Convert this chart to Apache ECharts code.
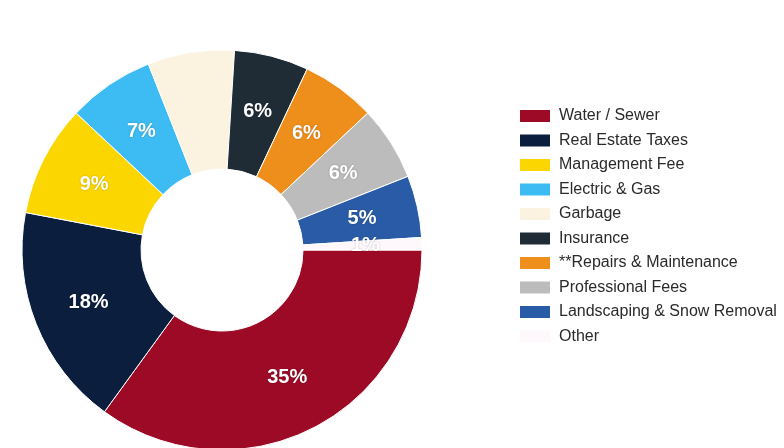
<!DOCTYPE html>
<html>
<head>
<meta charset="utf-8">
<script src="https://cdn.jsdelivr.net/npm/echarts@6/dist/echarts.min.js"></script>
<style>
  html, body { margin: 0; padding: 0; background: #ffffff; }
  #chart { width: 784px; height: 448px; }
</style>
</head>
<body>
<div id="chart"></div>
<script>
// Operating expense breakdown (percent of total)
const categories = [
  'Water / Sewer',
  'Real Estate Taxes',
  'Management Fee',
  'Electric & Gas',
  'Garbage',
  'Insurance',
  '**Repairs & Maintenance',
  'Professional Fees',
  'Landscaping & Snow Removal',
  'Other'
];
const shares = [35, 18, 9, 7, 7, 6, 6, 6, 5, 1];
const sliceColors = [
  '#9c0a26', '#0b1e3d', '#fcd600', '#3cbcf3', '#fbf2e0',
  '#1f2b35', '#ee8e1b', '#bcbcbc', '#2a5ba6', '#fef8fc'
];

const chart = echarts.init(document.getElementById('chart'), null, { renderer: 'canvas' });

const baseLabel = {
  show: true,
  position: 'inside',
  formatter: p => p.value + '%',
  fontFamily: 'Liberation Sans, Arial, sans-serif',
  fontSize: 20,
  fontWeight: 'bold',
  color: '#ffffff',
  textShadowColor: 'rgba(0,0,0,0.25)',
  textShadowBlur: 2
};

chart.setOption({
  backgroundColor: '#ffffff',
  animation: false,
  color: sliceColors,
  legend: {
    orient: 'vertical',
    left: 513,
    top: 103,
    itemWidth: 32,
    itemHeight: 14,
    itemGap: 8.5,
    icon: 'rect',
    textStyle: {
      fontFamily: 'Liberation Sans, Arial, sans-serif',
      fontSize: 16,
      color: '#2a2a2a',
      padding: [0, 0, 0, 3]
    },
    data: categories
  },
  series: [{
    type: 'pie',
    center: [222, 250],
    radius: [81, 200],
    startAngle: 0,
    clockwise: true,
    avoidLabelOverlap: false,
    itemStyle: { borderColor: '#ffffff', borderWidth: 1 },
    label: baseLabel,
    labelLine: { show: false },
    data: categories.map((name, i) => {
      const item = { name: name, value: shares[i] };
      // white text would vanish on the cream slice, so it is left off
      if (name === 'Garbage') {
        item.label = { show: false };
      }
      return item;
    })
  }]
});
</script>
</body>
</html>
